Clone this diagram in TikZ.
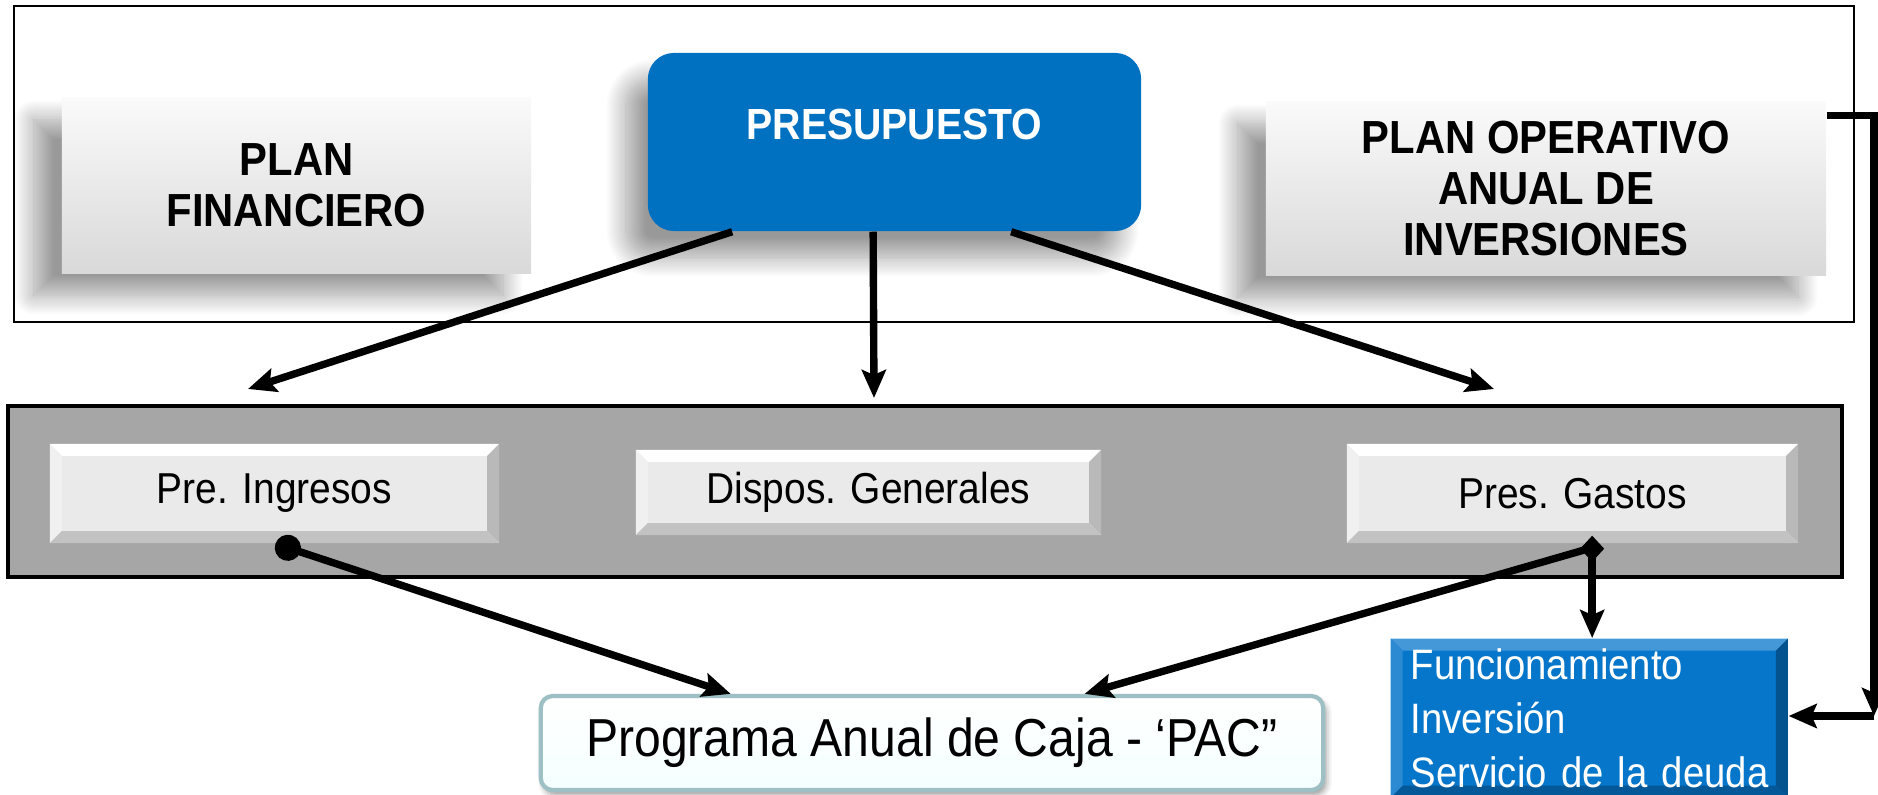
\documentclass[tikz,border=0pt]{standalone}
\usepackage{fontspec}
\setmainfont{Liberation Sans}[FakeStretch=0.9]
\usetikzlibrary{arrows.meta,calc,shadows.blur}
\definecolor{presblue}{HTML}{0070C0}
\definecolor{listblue}{HTML}{0676CA}
\definecolor{bandgray}{HTML}{A6A6A6}
\definecolor{facegray}{HTML}{EAEAEA}
\definecolor{pacedge}{HTML}{9EBFC3}
\newcommand\bvw{0.12cm}
\tikzset{bevel/.style n args={4}{path picture={
		\fill[#1] (path picture bounding box.north west) -- (path picture bounding box.north east)
			-- ([shift={(-\bvw,-\bvw)}]path picture bounding box.north east) -- ([shift={(\bvw,-\bvw)}]path picture bounding box.north west) -- cycle;
		\fill[#2] (path picture bounding box.north west) -- ([shift={(\bvw,-\bvw)}]path picture bounding box.north west)
			-- ([shift={(\bvw,\bvw)}]path picture bounding box.south west) -- (path picture bounding box.south west) -- cycle;
		\fill[#3] (path picture bounding box.north east) -- (path picture bounding box.south east)
			-- ([shift={(-\bvw,\bvw)}]path picture bounding box.south east) -- ([shift={(-\bvw,-\bvw)}]path picture bounding box.north east) -- cycle;
		\fill[#4] (path picture bounding box.south west) -- (path picture bounding box.south east)
			-- ([shift={(-\bvw,\bvw)}]path picture bounding box.south east) -- ([shift={(\bvw,\bvw)}]path picture bounding box.south west) -- cycle;}},
	frame/.style={draw=black, line width=0.8pt},
	band/.style={draw=black, line width=0.9pt, fill=bandgray},
	headbox/.style={top color=gray!4, bottom color=gray!30, align=center, font=\bfseries\fontsize{13.2}{14.5}\selectfont,
		blur shadow={shadow xshift=-0.28cm, shadow yshift=-0.22cm, shadow blur radius=0.2cm, shadow blur steps=20, shadow opacity=40}},
	presbox/.style={fill=presblue, rounded corners=0.26cm, text=white, font=\bfseries\fontsize{12.4}{14}\selectfont,
		text height=0.35cm, text depth=0.39cm,
		blur shadow={shadow xshift=-0.22cm, shadow yshift=-0.26cm, shadow blur radius=0.2cm, shadow blur steps=20, shadow opacity=40}},
	graybox/.style={fill=facegray, bevel={white}{gray!12}{gray!55}{gray!48}, font=\fontsize{12.3}{14}\selectfont},
	pacbox/.style={top color=white, bottom color=cyan!4, draw=pacedge, line width=1.2pt, rounded corners=0.12cm,
		font=\fontsize{15.2}{17}\selectfont,
		blur shadow={shadow xshift=0.03cm, shadow yshift=-0.05cm, shadow blur radius=0.06cm, shadow opacity=40}},
	listbox/.style={fill=listblue, bevel={listblue!75!white}{listblue!85!white}{listblue!70!black}{listblue!75!black},
		text=white, align=left, font=\fontsize{12.1}{15.3}\selectfont},
	conn/.style={line width=2.1pt},
	>={Stealth[length=0.28cm, width=0.24cm, inset=0.05cm]}}

\begin{document}
\begin{tikzpicture}[x=0.01cm, y=-0.01cm]
	\useasboundingbox (0,0) rectangle (1878,795);
	\clip (0,0) rectangle (1878,795);
	% marcos
	\draw[frame] (14,6) rectangle (1854,322);
	\draw[band] (8,406) rectangle (1842,577);
	% cajas
	\node[headbox, minimum width=4.69cm, minimum height=1.75cm] (plan) at (296.5,185.5) {PLAN\\FINANCIERO};
	\node[presbox, minimum width=4.93cm, minimum height=1.78cm] (presup) at (894.5,142) {PRESUPUESTO};
	\node[headbox, minimum width=5.6cm, minimum height=1.73cm] (poai) at (1546,188.5) {PLAN OPERATIVO\\ANUAL DE\\INVERSIONES};
	\node[graybox, minimum width=4.49cm, minimum height=0.99cm] (ingresos) at (274.5,493.5) {Pre. Ingresos};
	\node[graybox, minimum width=4.65cm, minimum height=0.85cm] (dispos) at (868.5,492.5) {Dispos. Generales};
	\node[graybox, minimum width=4.51cm, minimum height=0.99cm] (gastos) at (1572.5,493.5) {Pres. Gastos};
	\node[pacbox, minimum width=7.82cm, minimum height=0.94cm] (pac) at (932,743) {Programa Anual de Caja - `PAC”};
	\node[listbox, anchor=north west, text width=3.57cm, inner xsep=0.2cm, inner ysep=0.1cm] (rubros) at (1390,638)
		{Funcionamiento\\Inversión\\\mbox{Servicio de la deuda}};
	% flechas
	\coordinate (inA) at (248,389);
	\coordinate (dsA) at (874,398);
	\coordinate (gsA) at (1494,389);
	\coordinate (gsB) at ($(gastos.south west)+(246,4)$);
	\coordinate (turn) at (1874,716);
	\draw[conn, ->] ($(presup.south west)+(85,0)$) -- (inA);
	\draw[conn, ->] ($(presup.south west)+(226,0)$) -- (dsA);
	\draw[conn, ->] ($(presup.south west)+(364,0)$) -- (gsA);
	\draw[conn, {Circle[length=0.26cm]}->] ($(ingresos.south)+(1,0)$) -- ($(pac.north west)+(192,0)$);
	\draw[conn, ->] (gsB) -- ($(pac.north west)+(546,0)$);
	\draw[conn, {Turned Square[length=0.26cm, width=0.24cm]}->] ($(gsB)+(0,-12)$) -- (gsB |- rubros.north);
	\draw[conn, ->] ($(poai.north east)+(0,14)$) -| (turn);
	\draw[conn, ->] (turn) -- (turn -| rubros.east);
\end{tikzpicture}
\end{document}
